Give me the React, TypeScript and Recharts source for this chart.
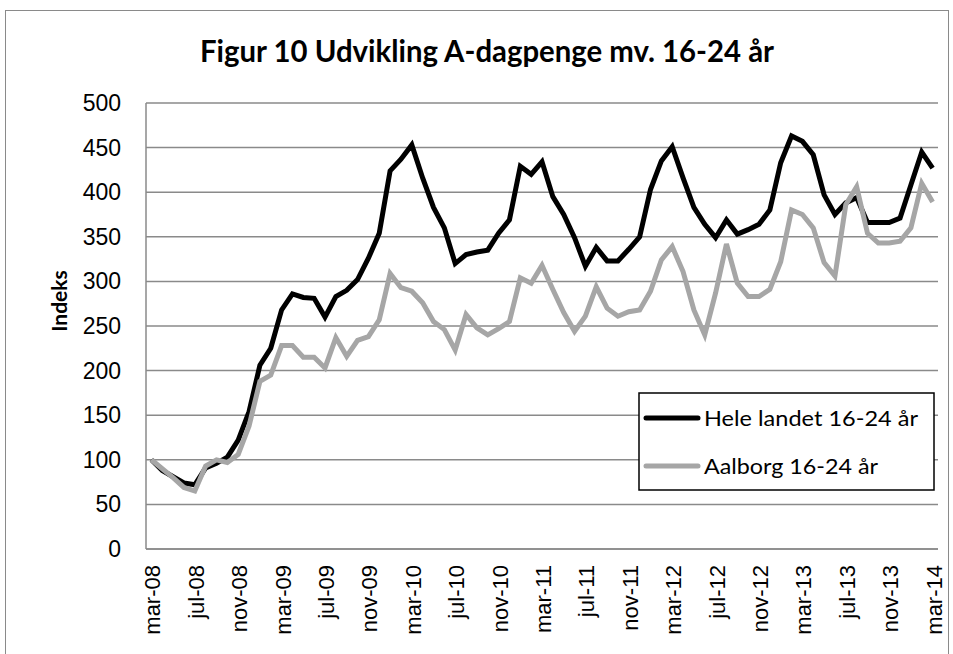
import React from "react";
import { LineChart, Line, XAxis, YAxis, CartesianGrid, Legend } from "recharts";

const TITLE = "Figur 10 Udvikling A-dagpenge mv. 16-24 år";
const Y_LABEL = "Indeks";
const SERIES_NAMES = ["Hele landet 16-24 år", "Aalborg 16-24 år"];
const MONTH_NAMES = ["jan", "feb", "mar", "apr", "maj", "jun", "jul", "aug", "sep", "okt", "nov", "dec"];
const START_YEAR = 2008;
const START_MONTH = 2; // march
const Y_TICKS = [0, 50, 100, 150, 200, 250, 300, 350, 400, 450, 500];

const heleLandet = [
  100, 88, 81, 74, 72, 91, 96, 103, 122, 154, 206, 225,
  268, 286, 282, 281, 260, 283, 290, 302, 326, 354, 424, 437,
  453, 416, 383, 360, 320, 330, 333, 335, 354, 369, 429, 420,
  434, 395, 375, 349, 317, 338, 323, 323, 336, 350, 403, 435,
  451, 416, 383, 364, 349, 369, 353, 358, 364, 380, 433, 463,
  457, 442, 397, 375, 388, 394, 366, 366, 366, 371, 408, 445,
  427,
];

const aalborg = [
  100, 90, 80, 69, 65, 93, 100, 97, 106, 138, 188, 195,
  228, 228, 215, 215, 203, 237, 216, 234, 238, 257, 309, 293,
  289, 276, 255, 246, 223, 263, 248, 240, 247, 255, 304, 298,
  318, 291, 265, 244, 261, 294, 270, 261, 266, 268, 289, 324,
  339, 311, 268, 240, 287, 342, 298, 283, 283, 291, 322, 380,
  375, 360, 321, 306, 386, 406, 354, 343, 343, 345, 360, 410,
  389,
];

const months = heleLandet.map((_, i) => {
  const m = (START_MONTH + i) % 12;
  const y = START_YEAR + Math.floor((START_MONTH + i) / 12);
  return `${MONTH_NAMES[m]}-${String(y % 100).padStart(2, "0")}`;
});

const data = months.map((month, i) => ({
  month,
  hele: heleLandet[i],
  aalborg: aalborg[i],
}));

const FONT = "'Liberation Sans', Arial, sans-serif";
const CAL = "Lato, 'Liberation Sans', Arial, sans-serif";
const GRID = "#8a8a8a";

const XTick = (props: any) => {
  const { x, payload } = props;
  return (
    <text
      transform={`translate(${x + 9},${565}) rotate(-90)`}
      textAnchor="end"
      fontFamily={FONT}
      fontSize={22}
      fill="#000"
    >
      {payload.value}
    </text>
  );
};

const YTick = (props: any) => {
  const { y, payload } = props;
  return (
    <text x={121} y={y} dy={8} textAnchor="end" fontFamily={FONT} fontSize={23} fill="#000">
      {payload.value}
    </text>
  );
};

const renderLegend = () => (
  <svg width={297} height={99} style={{ display: "block" }}>
    <rect x={1} y={1} width={295} height={97} fill="#fff" stroke="#000" strokeWidth={1.5} />
    <line x1={8} y1={26} x2={60} y2={26} stroke="#000" strokeWidth={5} strokeLinecap="round" />
    <text x={66} y={34} fontFamily={CAL} fontSize={22} fill="#000" textLength={214} lengthAdjust="spacingAndGlyphs">
      {SERIES_NAMES[0]}
    </text>
    <line x1={8} y1={74} x2={60} y2={74} stroke="#a6a6a6" strokeWidth={5} strokeLinecap="round" />
    <text x={66} y={82} fontFamily={CAL} fontSize={22} fill="#000" textLength={174} lengthAdjust="spacingAndGlyphs">
      {SERIES_NAMES[1]}
    </text>
  </svg>
);

export default function App() {
  return (
    <div style={{ position: "absolute", left: 0, top: 0, width: 953, height: 654, overflow: "hidden", background: "#fff" }}>
      <div
        style={{
          position: "absolute",
          left: 5,
          top: 10,
          width: 944,
          height: 700,
          border: "1.5px solid #8a8a8a",
          boxSizing: "border-box",
        }}
      />
      <svg width={953} height={80} style={{ position: "absolute", left: 0, top: 0 }}>
        <text
          x={487}
          y={62}
          textAnchor="middle"
          fontFamily={CAL}
          fontWeight="bold"
          fontSize={30}
          textLength={574}
          lengthAdjust="spacingAndGlyphs"
          fill="#000"
        >
          {TITLE}
        </text>
      </svg>
      <div style={{ position: "absolute", left: 0, top: 0 }}>
        <LineChart width={953} height={654} data={data} margin={{ top: 103, right: 15, bottom: 0, left: 0 }}>
          <CartesianGrid vertical={false} stroke={GRID} strokeWidth={1.5} />
          <XAxis
            dataKey="month"
            interval={3}
            tickLine={false}
            axisLine={{ stroke: GRID, strokeWidth: 1.5 }}
            height={105}
            padding={{ left: 5.4, right: 5.4 }}
            tick={<XTick />}
          />
          <YAxis
            width={146}
            domain={[0, 500]}
            ticks={Y_TICKS}
            tickLine={false}
            axisLine={{ stroke: GRID, strokeWidth: 1.5 }}
            tick={<YTick />}
            label={(p: any) => (
              <text
                transform={`translate(${67},${301}) rotate(-90)`}
                textAnchor="middle"
                fontFamily={CAL}
                fontWeight="bold"
                fontSize={21}
                fill="#000"
              >
                {Y_LABEL}
              </text>
            )}
          />
          <Line
            type="linear"
            dataKey="hele"
            name={SERIES_NAMES[0]}
            stroke="#000"
            strokeWidth={5}
            dot={false}
            isAnimationActive={false}
          />
          <Line
            type="linear"
            dataKey="aalborg"
            name={SERIES_NAMES[1]}
            stroke="#a6a6a6"
            strokeWidth={5}
            dot={false}
            isAnimationActive={false}
          />
          <Legend
            layout="horizontal"
            verticalAlign="middle"
            align="center"
            content={renderLegend}
            wrapperStyle={{ position: "absolute", left: 638, top: 392, width: 297, height: 99, bottom: "auto", right: "auto" }}
          />
        </LineChart>
      </div>
    </div>
  );
}
